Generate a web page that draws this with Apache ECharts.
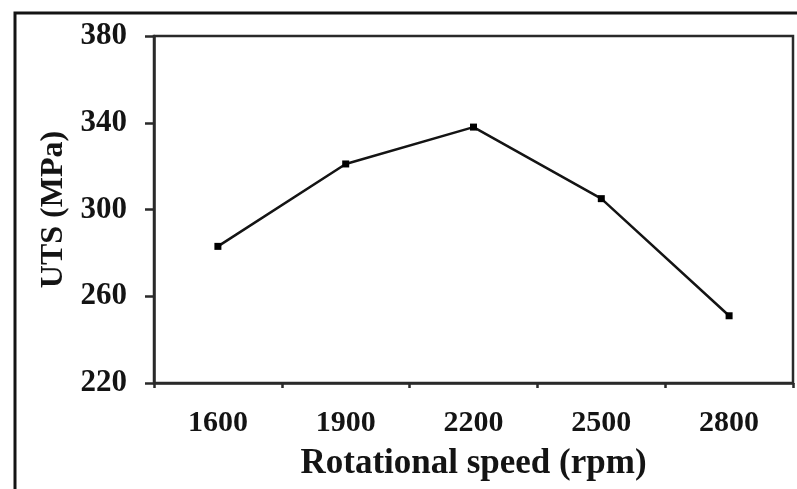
<!DOCTYPE html>
<html>
<head>
<meta charset="utf-8">
<script src="https://cdn.jsdelivr.net/npm/echarts@6/dist/echarts.min.js"></script>
<style>
html,body{margin:0;padding:0;background:#fff;}
#chart{width:797px;height:489px;}
</style>
</head>
<body>
<div id="chart"></div>
<script>
var categories = ['1600', '1900', '2200', '2500', '2800'];
var utsValues = [283, 321, 338, 305, 251];
var yMin = 220, yMax = 380, yStep = 40;
var xTitle = 'Rotational speed (rpm)';
var yTitle = 'UTS (MPa)';

var FONT = '"Liberation Serif", "Times New Roman", serif';
var INK = '#141414';

var chart = echarts.init(document.getElementById('chart'), null, {renderer: 'canvas'});
chart.setOption({
  animation: false,
  backgroundColor: '#ffffff',
  graphic: [{
    type: 'rect',
    shape: {x: 15, y: 13, width: 820, height: 520},
    style: {fill: 'none', stroke: INK, lineWidth: 3},
    silent: true
  }],
  grid: {
    left: 154, right: 4, top: 36, bottom: 106,
    show: true, borderColor: '#2a2a2a', borderWidth: 2.5, backgroundColor: 'transparent'
  },
  xAxis: {
    type: 'category',
    data: categories,
    boundaryGap: true,
    name: xTitle,
    nameLocation: 'middle',
    nameGap: 63,
    nameTextStyle: {fontFamily: FONT, fontWeight: 'bold', fontSize: 35, color: INK},
    axisLine: {show: true, lineStyle: {color: '#2a2a2a', width: 2.5}},
    axisTick: {show: true, inside: false, length: 5, lineStyle: {color: '#2a2a2a', width: 2.5}},
    axisLabel: {fontFamily: FONT, fontWeight: 'bold', fontSize: 30, color: INK, margin: 25},
    splitLine: {show: false}
  },
  yAxis: {
    type: 'value',
    min: yMin, max: yMax, interval: yStep,
    name: yTitle,
    nameLocation: 'middle',
    nameGap: 84,
    nameRotate: 90,
    nameTextStyle: {fontFamily: FONT, fontWeight: 'bold', fontSize: 32, color: INK},
    axisLine: {show: true, lineStyle: {color: '#2a2a2a', width: 2.5}},
    axisTick: {show: true, inside: false, length: 9, lineStyle: {color: '#2a2a2a', width: 2.5}},
    axisLabel: {fontFamily: FONT, fontWeight: 'bold', fontSize: 31, color: INK, margin: 27},
    splitLine: {show: false}
  },
  series: [{
    type: 'line',
    data: utsValues,
    symbol: 'rect',
    symbolSize: 7,
    showSymbol: true,
    lineStyle: {color: INK, width: 2.5},
    itemStyle: {color: '#000'}
  }]
});
</script>
</body>
</html>
